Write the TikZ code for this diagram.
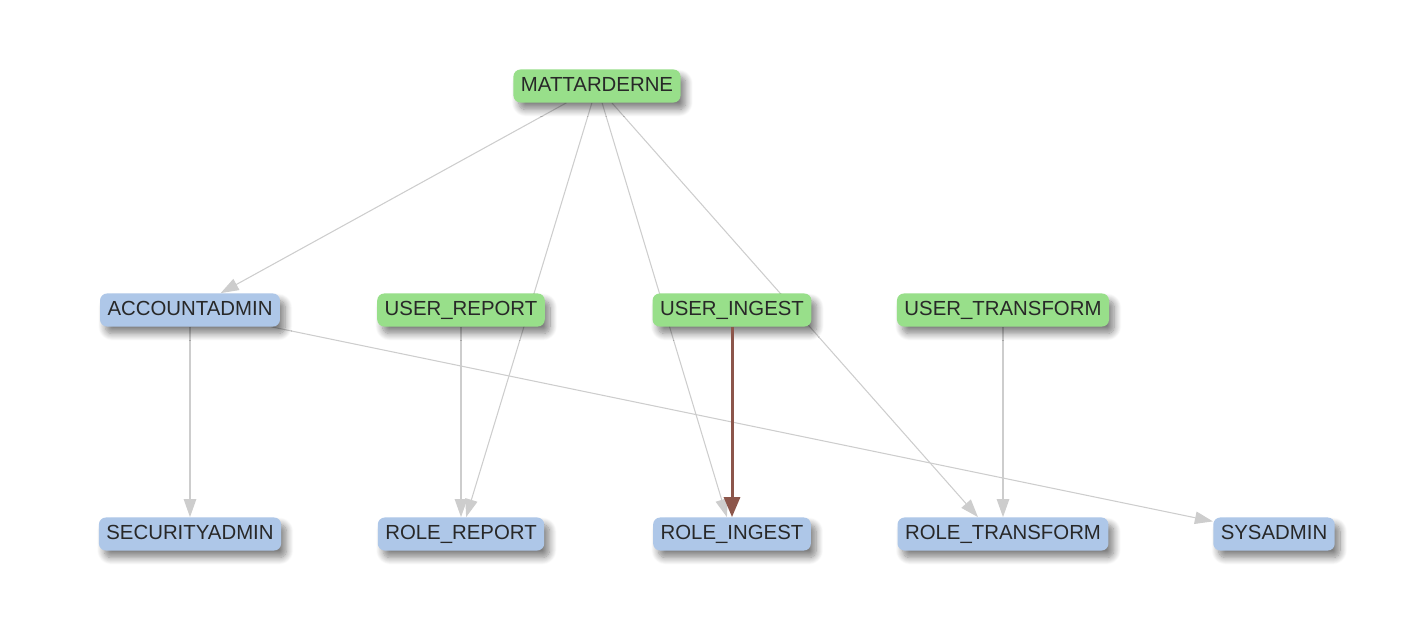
\documentclass[tikz,border=0pt]{standalone}
\usepackage{fontspec}
\setmainfont{Liberation Sans}
\usepackage{xcolor}
\usepackage{tikz}
\usetikzlibrary{arrows.meta,positioning,backgrounds,shadows.blur}
\definecolor{grant_green}{RGB}{152,223,138}
\definecolor{role_blue}{RGB}{174,199,232}
\definecolor{edge_grey}{RGB}{205,205,205}
\definecolor{edge_brown}{RGB}{140,86,75}
\definecolor{label_dark}{RGB}{40,40,40}

\begin{document}
\begin{tikzpicture}[font=\fontsize{11.6}{13}\selectfont,
          box/.style={rounded corners=4pt, inner xsep=0.15cm, inner ysep=4.2pt,
                      text height=8.4pt, text depth=2pt,
                      text=label_dark, align=center,
                      blur shadow={shadow xshift=3pt, shadow yshift=-4pt,
                                   shadow blur radius=4pt, shadow blur steps=10,
                                   shadow opacity=50}},
          usr/.style={box, fill=grant_green},
          rol/.style={box, fill=role_blue},
          gr/.style={-{Triangle[length=0.36cm,width=0.25cm]}, edge_grey, line width=0.6pt},
          hot/.style={-{Triangle[length=0.4cm,width=0.32cm]}, edge_brown, line width=1.7pt}]
        \useasboundingbox (0,0) rectangle (28.08,-12.56);
        \node[usr] (matt)  at (11.94,-1.72)  {MATTARDERNE};
        \node[rol] (acct)  at (3.80,-6.20)   {ACCOUNTADMIN};
        \node[usr] (urep)  at (9.22,-6.20)   {USER\_REPORT};
        \node[usr] (uing)  at (14.64,-6.20)  {USER\_INGEST};
        \node[usr] (utra)  at (20.06,-6.20)  {USER\_TRANSFORM};
        \node[rol] (sec)   at (3.80,-10.68)  {SECURITYADMIN};
        \node[rol] (rrep)  at (9.22,-10.68)  {ROLE\_REPORT};
        \node[rol] (ring)  at (14.64,-10.68) {ROLE\_INGEST};
        \node[rol] (rtra)  at (20.06,-10.68) {ROLE\_TRANSFORM};
        \node[rol] (sys)   at (25.48,-10.68) {SYSADMIN};
        \begin{scope}[on background layer]
          \draw[gr] (matt) -- (acct);
          \draw[gr] (matt) -- (rrep);
          \draw[gr] (matt) -- (ring);
          \draw[gr] (matt) -- ([xshift=-0.5cm]rtra.north);
          \draw[gr] (acct) -- (sec);
          \draw[gr] (acct) -- (sys);
          \draw[gr] (urep) -- (rrep);
          \draw[gr] (utra) -- (rtra);
        \end{scope}
        \draw[hot] (uing) -- (ring);
      \end{tikzpicture}
\end{document}
